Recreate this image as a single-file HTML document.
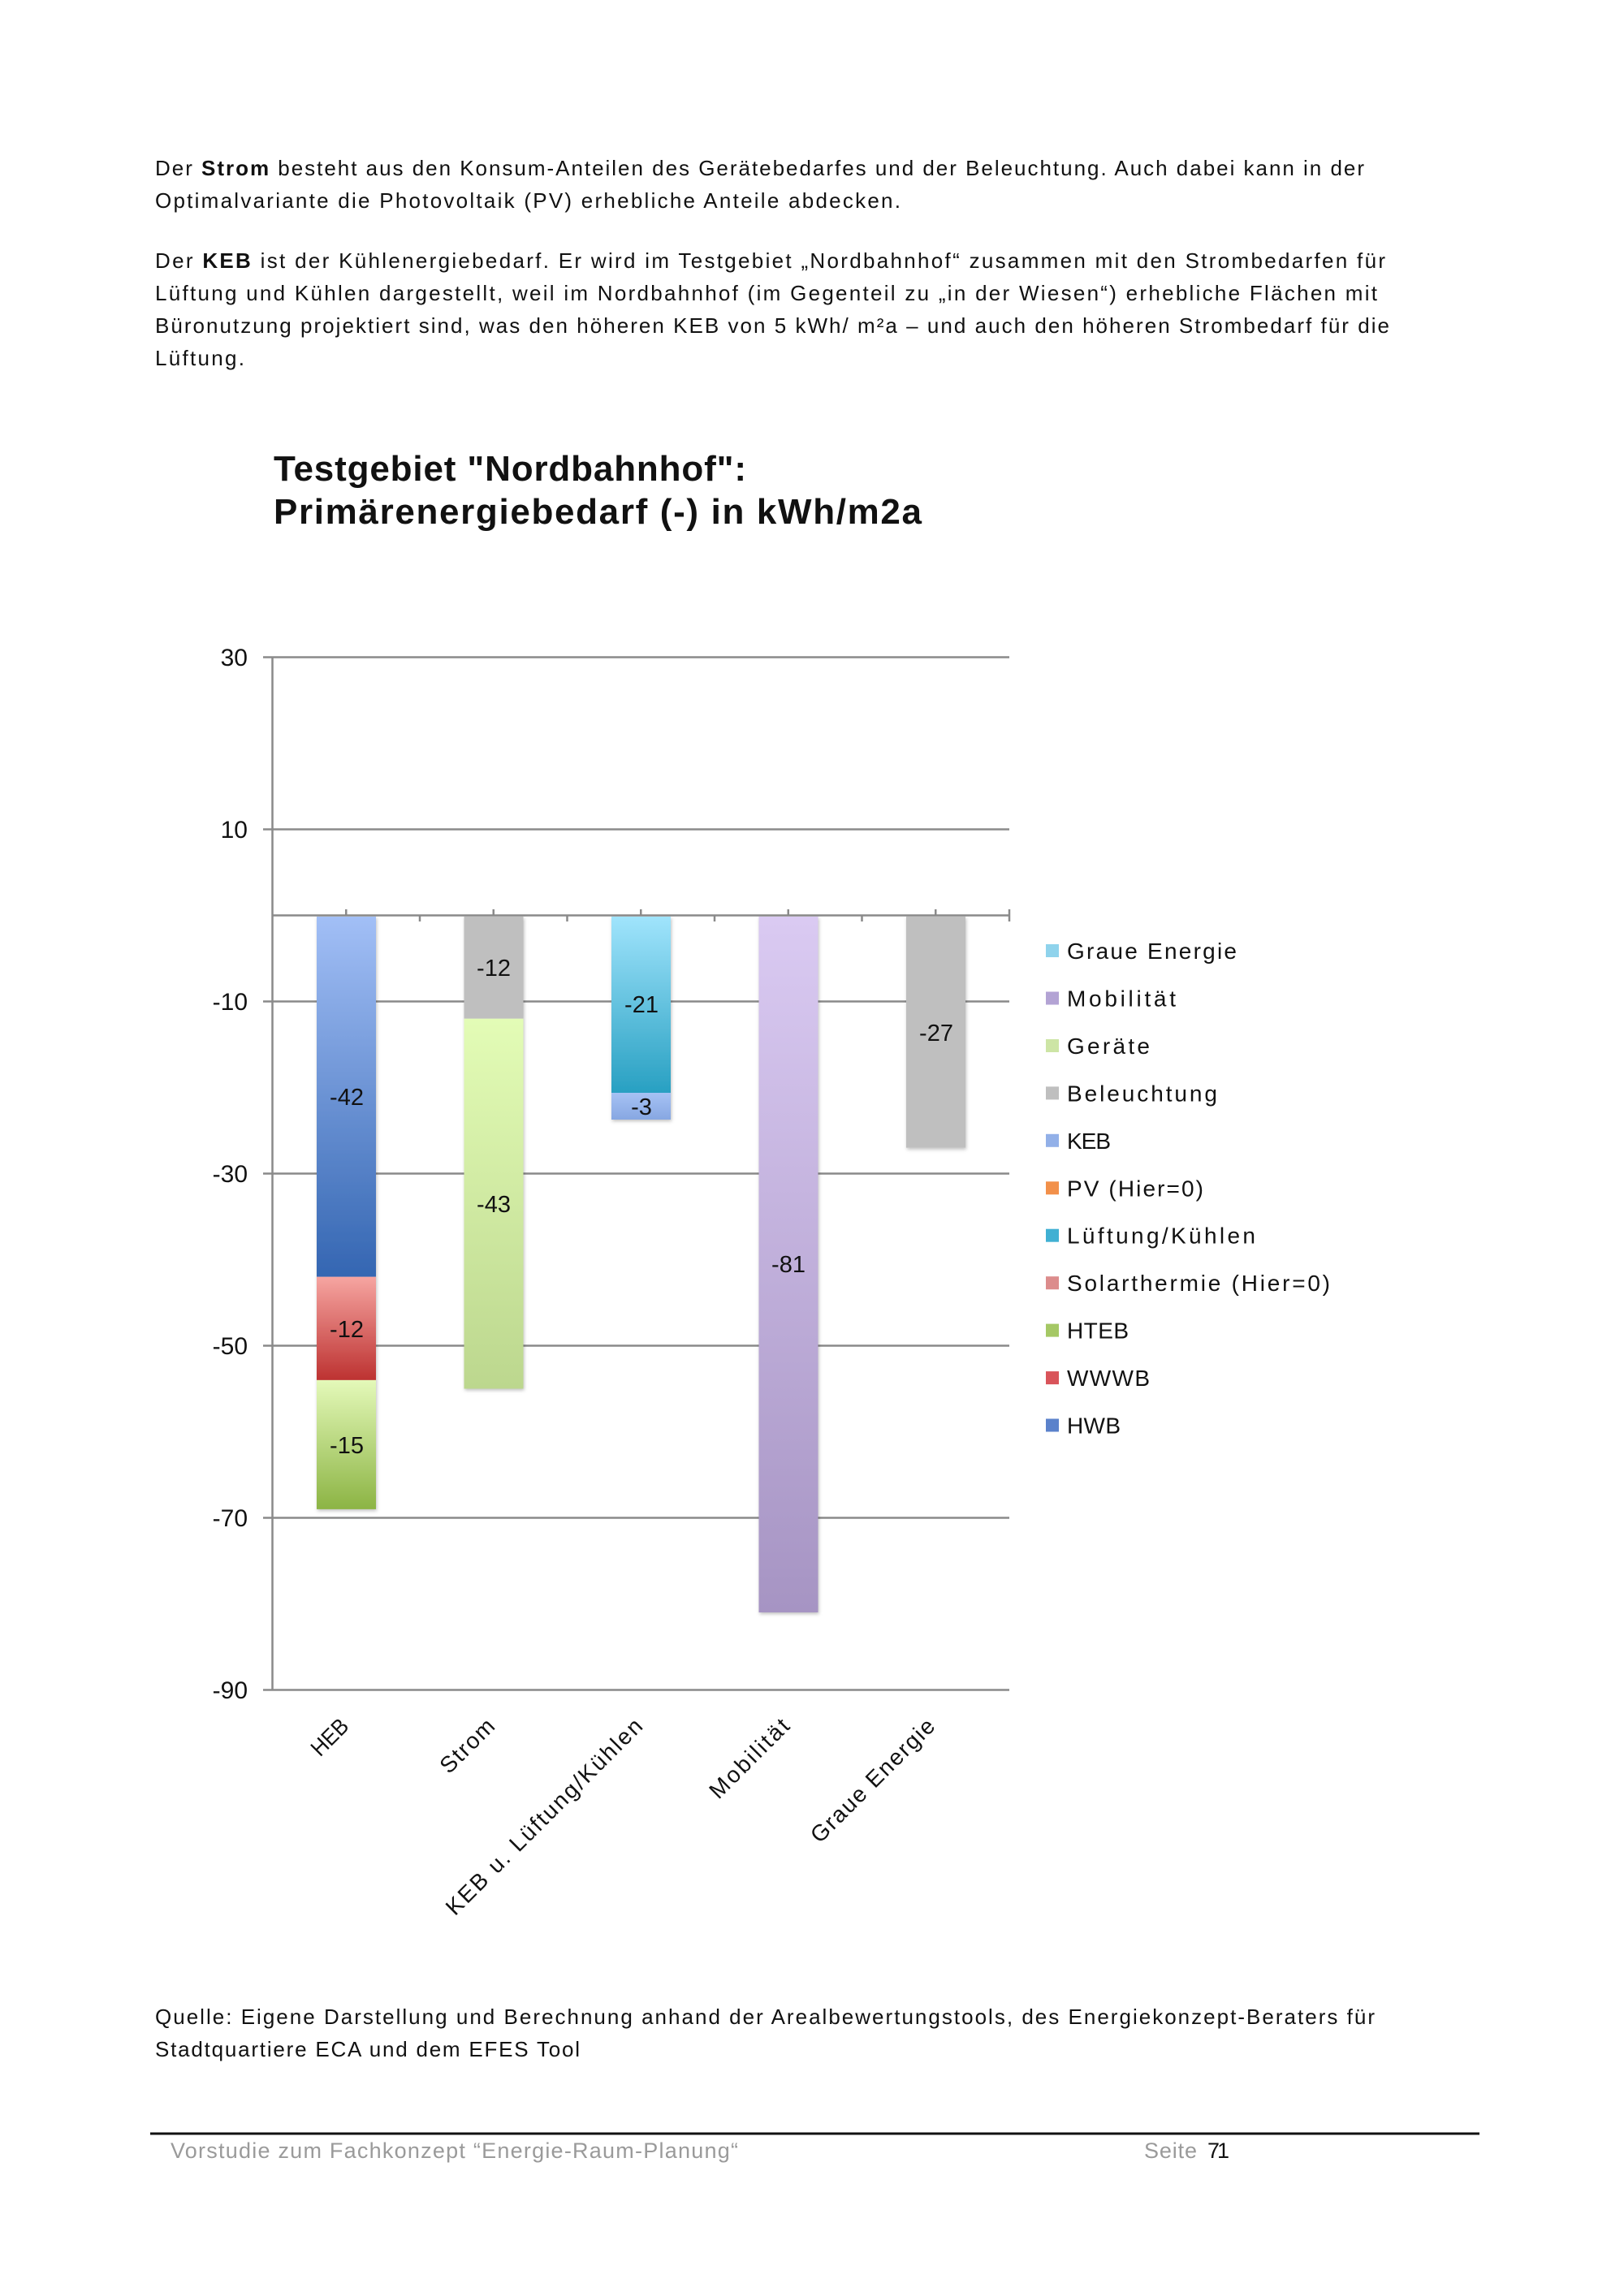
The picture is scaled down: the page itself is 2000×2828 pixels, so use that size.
<!DOCTYPE html>
<html>
<head>
<meta charset="utf-8">
<style>
  html, body { margin: 0; padding: 0; background: #ffffff; }
  body { width: 2000px; height: 2828px; overflow: hidden; }
  svg { display: block; }
  .body { font-family: "Liberation Sans", sans-serif; font-size: 26px; fill: #111; }
  .title { font-family: "Liberation Sans", sans-serif; font-size: 44px; font-weight: bold; fill: #111; }
  .tick { font-family: "Liberation Sans", sans-serif; font-size: 30px; fill: #111; }
  .dl { font-family: "Liberation Sans", sans-serif; font-size: 29px; fill: #111; }
  .leg { font-family: "Liberation Sans", sans-serif; font-size: 28px; fill: #111; }
  .cat { font-family: "Liberation Sans", sans-serif; font-size: 28px; fill: #111; }
  .foot { font-family: "Liberation Sans", sans-serif; font-size: 27px; fill: #9a9a9a; }
</style>
</head>
<body>
<svg width="2000" height="2828" viewBox="0 0 2000 2828" xmlns="http://www.w3.org/2000/svg">
  <defs>
    <linearGradient id="gHWB" x1="0" y1="0" x2="0" y2="1">
      <stop offset="0" stop-color="#a2bff6"/>
      <stop offset="1" stop-color="#3466b2"/>
    </linearGradient>
    <linearGradient id="gWWWB" x1="0" y1="0" x2="0" y2="1">
      <stop offset="0" stop-color="#f6a5a1"/>
      <stop offset="1" stop-color="#bd3231"/>
    </linearGradient>
    <linearGradient id="gHTEB" x1="0" y1="0" x2="0" y2="1">
      <stop offset="0" stop-color="#e4f9b9"/>
      <stop offset="1" stop-color="#8cb444"/>
    </linearGradient>
    <linearGradient id="gGer" x1="0" y1="0" x2="0" y2="1">
      <stop offset="0" stop-color="#e3fcb6"/>
      <stop offset="1" stop-color="#bcd78e"/>
    </linearGradient>
    <linearGradient id="gLuef" x1="0" y1="0" x2="0" y2="1">
      <stop offset="0" stop-color="#a0e4fc"/>
      <stop offset="1" stop-color="#28a0c2"/>
    </linearGradient>
    <linearGradient id="gKEB" x1="0" y1="0" x2="0" y2="1">
      <stop offset="0" stop-color="#a6c2f4"/>
      <stop offset="1" stop-color="#87a7e2"/>
    </linearGradient>
    <linearGradient id="gMob" x1="0" y1="0" x2="0" y2="1">
      <stop offset="0" stop-color="#dacaf2"/>
      <stop offset="1" stop-color="#a694c3"/>
    </linearGradient>
    <filter id="sh" x="-20%" y="-5%" width="140%" height="110%">
      <feDropShadow dx="1" dy="2" stdDeviation="2" flood-color="#000" flood-opacity="0.25"/>
    </filter>
  </defs>

  <!-- Body text -->
  <text class="body" x="191" y="216" textLength="1489" lengthAdjust="spacing">Der <tspan font-weight="bold">Strom</tspan> besteht aus den Konsum-Anteilen des Gerätebedarfes und der Beleuchtung. Auch dabei kann in der</text>
  <text class="body" x="191" y="256" textLength="918" lengthAdjust="spacing">Optimalvariante die Photovoltaik (PV) erhebliche Anteile abdecken.</text>

  <text class="body" x="191" y="330" textLength="1515" lengthAdjust="spacing">Der <tspan font-weight="bold">KEB</tspan> ist der Kühlenergiebedarf. Er wird im Testgebiet „Nordbahnhof“ zusammen mit den Strombedarfen für</text>
  <text class="body" x="191" y="370" textLength="1505" lengthAdjust="spacing">Lüftung und Kühlen dargestellt, weil im Nordbahnhof (im Gegenteil zu „in der Wiesen“) erhebliche Flächen mit</text>
  <text class="body" x="191" y="410" textLength="1520" lengthAdjust="spacing">Büronutzung projektiert sind, was den höheren KEB von 5 kWh/ m²a – und auch den höheren Strombedarf für die</text>
  <text class="body" x="191" y="450" textLength="110" lengthAdjust="spacing">Lüftung.</text>

  <!-- Chart title -->
  <text class="title" x="337" y="592" textLength="582" lengthAdjust="spacing">Testgebiet "Nordbahnhof":</text>
  <text class="title" x="337" y="645" textLength="798" lengthAdjust="spacing">Primärenergiebedarf (-) in kWh/m2a</text>

  <!-- Gridlines -->
  <g stroke="#8a8a8a" stroke-width="2.5" fill="none">
    <line x1="324" y1="809.5" x2="1243" y2="809.5"/>
    <line x1="324" y1="1021.5" x2="1243" y2="1021.5"/>
    <line x1="324" y1="1233.5" x2="1243" y2="1233.5"/>
    <line x1="324" y1="1445.5" x2="1243" y2="1445.5"/>
    <line x1="324" y1="1657.5" x2="1243" y2="1657.5"/>
    <line x1="324" y1="1869.5" x2="1243" y2="1869.5"/>
    <line x1="324" y1="2081.5" x2="1243" y2="2081.5"/>
    <!-- y axis -->
    <line x1="335.5" y1="809.5" x2="335.5" y2="2081.5"/>
    <!-- zero category axis -->
    <line x1="335.5" y1="1127.5" x2="1243" y2="1127.5"/>
    <!-- ticks up at category centers -->
    <line x1="426.25" y1="1120" x2="426.25" y2="1127.5"/>
    <line x1="607.75" y1="1120" x2="607.75" y2="1127.5"/>
    <line x1="789.25" y1="1120" x2="789.25" y2="1127.5"/>
    <line x1="970.75" y1="1120" x2="970.75" y2="1127.5"/>
    <line x1="1152.25" y1="1120" x2="1152.25" y2="1127.5"/>
    <!-- ticks down at boundaries -->
    <line x1="517" y1="1127.5" x2="517" y2="1135"/>
    <line x1="698.5" y1="1127.5" x2="698.5" y2="1135"/>
    <line x1="880" y1="1127.5" x2="880" y2="1135"/>
    <line x1="1061.5" y1="1127.5" x2="1061.5" y2="1135"/>
    <line x1="1243" y1="1120" x2="1243" y2="1135"/>
  </g>

  <!-- Y tick labels -->
  <g class="tick" text-anchor="end">
    <text x="305" y="820">30</text>
    <text x="305" y="1032">10</text>
    <text x="305" y="1244">-10</text>
    <text x="305" y="1456">-30</text>
    <text x="305" y="1668">-50</text>
    <text x="305" y="1880">-70</text>
    <text x="305" y="2092">-90</text>
  </g>

  <!-- Bars -->
  <g filter="url(#sh)">
    <!-- HEB -->
    <rect x="390" y="1129" width="73" height="443.7" fill="url(#gHWB)"/>
    <rect x="390" y="1572.7" width="73" height="127.2" fill="url(#gWWWB)"/>
    <rect x="390" y="1699.9" width="73" height="159" fill="url(#gHTEB)"/>
    <!-- Strom -->
    <rect x="571.5" y="1129" width="73" height="125.7" fill="#bfbfbf"/>
    <rect x="571.5" y="1254.7" width="73" height="455.8" fill="url(#gGer)"/>
    <!-- KEB u. Lueftung -->
    <rect x="753" y="1129" width="73" height="217" fill="url(#gLuef)"/>
    <rect x="753" y="1346" width="73" height="33" fill="url(#gKEB)"/>
    <!-- Mobilitaet -->
    <rect x="934.5" y="1129" width="73" height="857" fill="url(#gMob)"/>
    <!-- Graue Energie -->
    <rect x="1116" y="1129" width="73" height="284.7" fill="#bfbfbf"/>
  </g>

  <!-- Data labels -->
  <g class="dl" text-anchor="middle">
    <text x="427" y="1361">-42</text>
    <text x="427" y="1647">-12</text>
    <text x="427" y="1790">-15</text>
    <text x="608" y="1202">-12</text>
    <text x="608" y="1493">-43</text>
    <text x="790" y="1247">-21</text>
    <text x="790" y="1373">-3</text>
    <text x="971" y="1567">-81</text>
    <text x="1153" y="1282">-27</text>
  </g>

  <!-- Category labels (rotated) -->
  <g class="cat" text-anchor="end">
    <text transform="translate(431,2128) rotate(-45)" textLength="52" lengthAdjust="spacingAndGlyphs">HEB</text>
    <text transform="translate(611,2128) rotate(-45)" textLength="82" lengthAdjust="spacing">Strom</text>
    <text transform="translate(793,2128) rotate(-45)" textLength="329" lengthAdjust="spacing">KEB u. Lüftung/Kühlen</text>
    <text transform="translate(974,2128) rotate(-45)" textLength="126" lengthAdjust="spacing">Mobilität</text>
    <text transform="translate(1153,2128) rotate(-45)" textLength="203" lengthAdjust="spacing">Graue Energie</text>
  </g>

  <!-- Legend -->
  <g>
    <rect x="1288" y="1163" width="16" height="16" fill="#8fd3ec"/>
    <rect x="1288" y="1221.5" width="16" height="16" fill="#b3a3d4"/>
    <rect x="1288" y="1280" width="16" height="16" fill="#cde5a5"/>
    <rect x="1288" y="1338.4" width="16" height="16" fill="#bfbfbf"/>
    <rect x="1288" y="1396.8" width="16" height="16" fill="#92b0e8"/>
    <rect x="1288" y="1455.3" width="16" height="16" fill="#f2904a"/>
    <rect x="1288" y="1513.7" width="16" height="16" fill="#40b0d3"/>
    <rect x="1288" y="1572.2" width="16" height="16" fill="#dc8c8c"/>
    <rect x="1288" y="1630.6" width="16" height="16" fill="#a5c865"/>
    <rect x="1288" y="1689.1" width="16" height="16" fill="#d9545a"/>
    <rect x="1288" y="1747.5" width="16" height="16" fill="#5b82cb"/>
  </g>
  <g class="leg">
    <text x="1314" y="1181" textLength="209" lengthAdjust="spacing">Graue Energie</text>
    <text x="1314" y="1239.5" textLength="134" lengthAdjust="spacing">Mobilität</text>
    <text x="1314" y="1298" textLength="102" lengthAdjust="spacing">Geräte</text>
    <text x="1314" y="1356.4" textLength="185" lengthAdjust="spacing">Beleuchtung</text>
    <text x="1314" y="1414.8" textLength="54" lengthAdjust="spacing">KEB</text>
    <text x="1314" y="1473.3" textLength="168" lengthAdjust="spacing">PV (Hier=0)</text>
    <text x="1314" y="1531.7" textLength="232" lengthAdjust="spacing">Lüftung/Kühlen</text>
    <text x="1314" y="1590.2" textLength="324" lengthAdjust="spacing">Solarthermie (Hier=0)</text>
    <text x="1314" y="1648.6" textLength="76" lengthAdjust="spacing">HTEB</text>
    <text x="1314" y="1707.1" textLength="102" lengthAdjust="spacing">WWWB</text>
    <text x="1314" y="1765.5" textLength="66" lengthAdjust="spacing">HWB</text>
  </g>

  <!-- Source -->
  <text class="body" x="191" y="2493" textLength="1502" lengthAdjust="spacing">Quelle: Eigene Darstellung und Berechnung anhand der Arealbewertungstools, des Energiekonzept-Beraters für</text>
  <text class="body" x="191" y="2533" textLength="523" lengthAdjust="spacing">Stadtquartiere ECA und dem EFES Tool</text>

  <!-- Footer -->
  <rect x="185" y="2626.5" width="1637" height="3" fill="#111"/>
  <text class="foot" x="210" y="2658" textLength="699" lengthAdjust="spacing">Vorstudie zum Fachkonzept “Energie-Raum-Planung“</text>
  <text class="foot" x="1409" y="2658" textLength="65" lengthAdjust="spacing">Seite</text>
  <text class="foot" x="1487" y="2658" style="fill:#111" textLength="27" lengthAdjust="spacing">71</text>
</svg>
</body>
</html>
